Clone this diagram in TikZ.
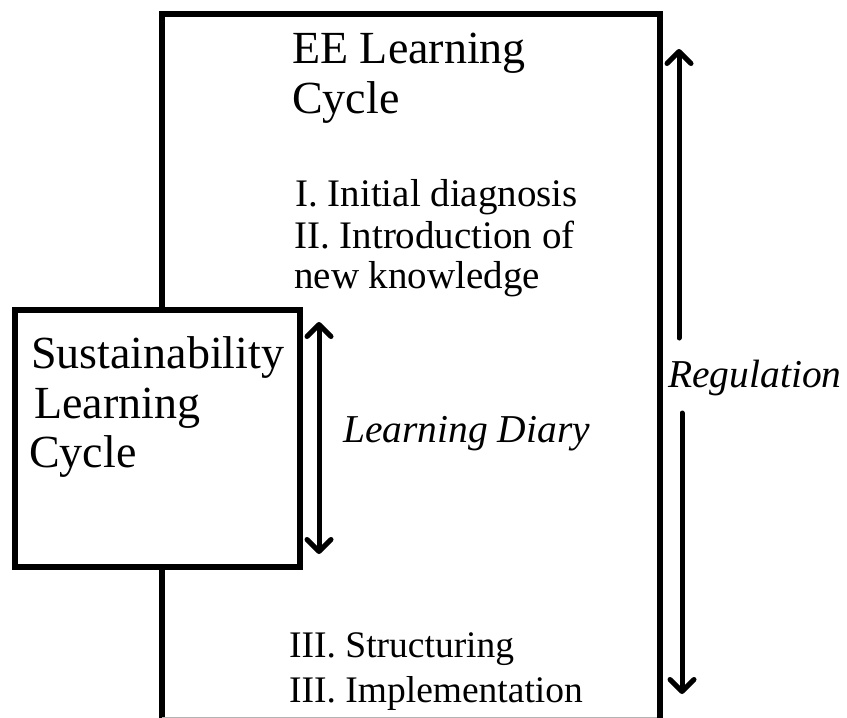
\documentclass[tikz,border=0pt]{standalone}
\usepackage{fontspec}
\setmainfont{Liberation Serif}
\usetikzlibrary{arrows.meta}
\tikzset{
  frame/.style={line width=6pt, line cap=rect, line join=miter},
  box/.style={draw, line width=6pt, fill=white, inner sep=0pt},
  title/.style={anchor=base west, inner sep=0pt, font=\fontsize{46}{50}\selectfont},
  item/.style={anchor=base west, inner sep=0pt, font=\fontsize{39}{42}\selectfont},
  itemb/.style={anchor=base west, inner sep=0pt, font=\fontsize{37.5}{42}\selectfont},
  lab/.style={anchor=base west, inner sep=0pt, font=\fontsize{39.5}{42}\selectfont\itshape},
  dblarrow/.style={line width=5pt, line cap=round,
    arrows={Straight Barb[length=12pt,width=24pt,line cap=round,line join=round]-Straight Barb[length=12pt,width=24pt,line cap=round,line join=round]}},
  onearrow/.style={line width=5pt, line cap=round,
    arrows={-Straight Barb[length=12pt,width=24pt,line cap=round,line join=round]}},
}
\begin{document}
\begin{tikzpicture}[x=1pt,y=-1pt]
\useasboundingbox (0,0) rectangle (847,718);
% big frame (open at bottom)
\coordinate (bl) at (162,722);
\coordinate (tl) at (162,14);
\coordinate (tr) at (660,14);
\coordinate (br) at (660,722);
\draw[frame] (bl) -- (tl) -- (tr) -- (br);
\draw[gray!60, line width=1pt] (162,717) -- (657,717);
% small box
\node[box, minimum width=285pt, minimum height=257pt] (slc) at (157.5,438.5) {};
% texts
\node[title] (ee1) at (292,63) {EE Learning};
\node[title] (ee2) at (292,113) {Cycle};
\node[item] (i1) at (295,206) {I. Initial diagnosis};
\node[item] (i2) at (294,248) {II. Introduction of};
\node[item] (i3) at (294,288) {new knowledge};
\node[itemb] (i4) at (289,657) {III. Structuring};
\node[itemb] (i5) at (289,702) {III. Implementation};
\node[title] (s1) at (31,368) {Sustainability};
\node[title] (s2) at (34,418) {Learning};
\node[title] (s3) at (29,467) {Cycle};
\node[lab] (ld) at (343,442) {Learning Diary};
\node[lab] (rg) at (668,387) {Regulation};
% arrows
\coordinate (ldtop) at (319,322);
\coordinate (ldbot) at (319,554);
\draw[dblarrow] (ldtop) -- (ldbot);
\coordinate (rgtop) at (679,49);
\coordinate (rgmid1) at (679,338);
\coordinate (rgmid2) at (682,413);
\coordinate (rgbot) at (682,694);
\draw[onearrow] (rgmid1) -- (rgtop);
\draw[onearrow] (rgmid2) -- (rgbot);
\end{tikzpicture}
\end{document}
